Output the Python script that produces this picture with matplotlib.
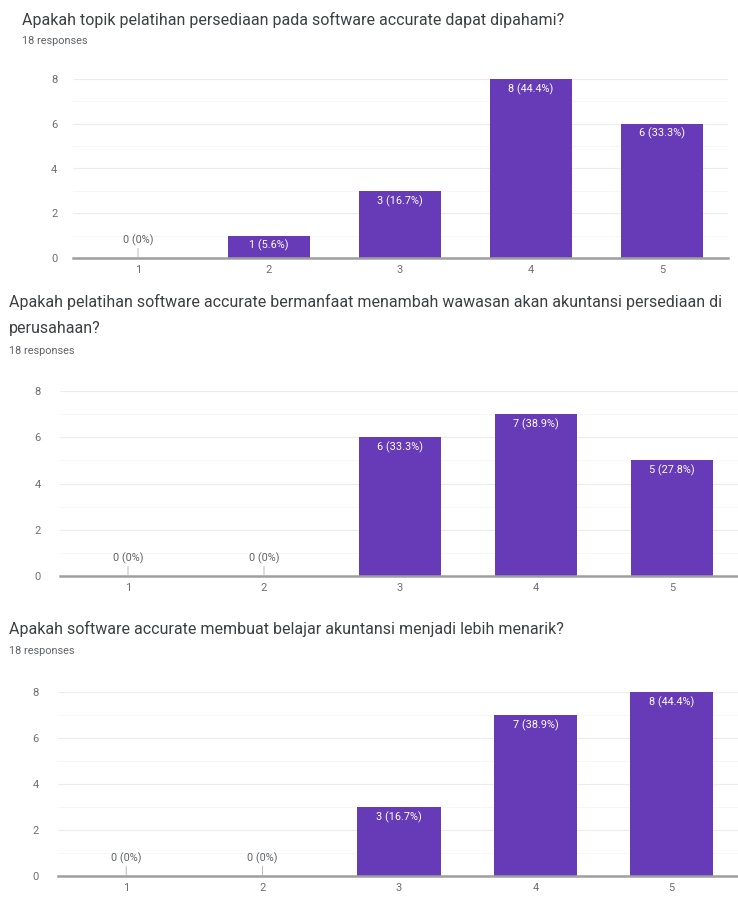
import matplotlib
matplotlib.use("Agg")
import matplotlib.pyplot as plt
from matplotlib.ticker import MultipleLocator

plt.rcParams['font.family'] = ['Roboto', 'DejaVu Sans']

categories = ["1", "2", "3", "4", "5"]
total_responses = 18
titles = [
    "Apakah topik pelatihan persediaan pada software accurate dapat dipahami?",
    "Apakah pelatihan software accurate bermanfaat menambah wawasan akan akuntansi persediaan di\nperusahaan?",
    "Apakah software accurate membuat belajar akuntansi menjadi lebih menarik?",
]
values_q1 = [0, 1, 3, 8, 6]
values_q2 = [0, 0, 6, 7, 5]
values_q3 = [0, 0, 3, 7, 8]
yticks = [0, 2, 4, 6, 8]

W, H = 738, 897
fig = plt.figure(figsize=(W / 100, H / 100), dpi=100)

BAR = "#673ab7"
GRID = "#ececec"
MINOR = "#f5f5f5"
AXIS = "#9e9e9e"
TXT = "#3c4043"
TICK = "#6f6f6f"

layouts = [
    dict(l=72.5, r=727.5, t=79, b=258, tx=22, title_y=[20], resp_y=41, pad=11, bw=0.62),
    dict(l=60, r=740, t=391, b=576, tx=9, title_y=[302, 328], resp_y=351, pad=14, bw=0.61),
    dict(l=58, r=740, t=692, b=876, tx=9, title_y=[629], resp_y=651, pad=14, bw=0.61),
]
series = [values_q1, values_q2, values_q3]


def fmt_pct(v):
    p = v / total_responses * 100
    if v == 0:
        return "0 (0%)"
    return f"{v} ({p:.1f}%)"


for lay, vals, title in zip(layouts, series, titles):
    ax = fig.add_axes([lay['l'] / W, 1 - lay['b'] / H,
                       (lay['r'] - lay['l']) / W, (lay['b'] - lay['t']) / H])
    x = list(range(len(categories)))
    ax.set_xlim(-0.5, len(categories) - 0.5)
    ax.set_ylim(0, 8)
    ax.yaxis.set_minor_locator(MultipleLocator(1))
    ax.grid(axis='y', which='major', color=GRID, lw=0.8, zorder=0)
    ax.grid(axis='y', which='minor', color=MINOR, lw=0.6, zorder=0)
    ax.set_axisbelow(True)
    ax.bar(x, vals, width=lay['bw'], color=BAR, zorder=2)
    ax.axhline(0, color=AXIS, lw=1.8, zorder=3, clip_on=False)
    for s in ax.spines.values():
        s.set_visible(False)
    ax.set_xticks(x)
    ax.set_xticklabels(categories)
    ax.set_yticks(yticks)
    ax.tick_params(axis='both', which='both', length=0, labelsize=8, colors=TICK)
    ax.tick_params(axis='y', pad=lay['pad'])
    ax.tick_params(axis='x', pad=5)
    for xi, v in zip(x, vals):
        if v > 0:
            ax.annotate(fmt_pct(v), (xi, v), xytext=(0, -3), textcoords='offset points',
                        ha='center', va='top', color='white', fontsize=7.8, zorder=4)
        else:
            ax.annotate(fmt_pct(v), (xi, 0), xytext=(0, 9), textcoords='offset points',
                        ha='center', va='bottom', color='#5f6368', fontsize=7.8, zorder=4,
                        arrowprops=dict(arrowstyle='-', color='#b0b0b0', lw=0.6,
                                        shrinkA=0, shrinkB=0))
    for i, line in enumerate(title.split("\n")):
        fig.text(lay['tx'] / W, 1 - lay['title_y'][i] / H, line, ha='left', va='center',
                 fontsize=11.5, color=TXT)
    fig.text(lay['tx'] / W, 1 - lay['resp_y'] / H, f"{total_responses} responses", ha='left',
             va='center', fontsize=7.8, color='#5f6368')

fig.savefig("out.png", dpi=100, facecolor='white')
